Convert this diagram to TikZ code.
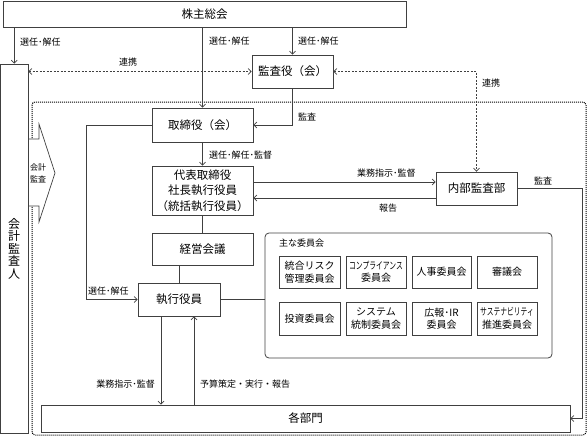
\documentclass[tikz,border=0pt]{standalone}
\usepackage{fontspec}
\usepackage{graphicx}
\setmainfont{Noto Sans CJK JP}
\usetikzlibrary{arrows.meta}
\definecolor{ln}{HTML}{404040}
\tikzset{
  box/.style={draw=ln, line width=0.8pt, fill=white, inner sep=0pt, align=center,
    font=\fontsize{11.5}{15.5}\selectfont},
  cbox/.style={draw=ln, line width=0.8pt, fill=white, inner sep=0pt, align=center,
    font=\fontsize{10}{12.5}\selectfont, minimum width=60pt},
  lab/.style={font=\fontsize{9}{11}\selectfont, inner sep=0pt, text=black},
  arr/.style={draw=ln, line width=0.7pt, -{Straight Barb[length=3pt,width=6pt]}},
  plain/.style={draw=ln, line width=0.7pt},
  dsh/.style={draw=ln, line width=0.7pt, dash pattern=on 2pt off 1.5pt},
  dotreg/.style={draw=black, line width=1pt, dash pattern=on 1pt off 1pt, rounded corners=3pt}
}
\begin{document}
\begin{tikzpicture}[x=1pt,y=-1pt]
\useasboundingbox (0,0) rectangle (588,444);
% dotted region
\draw[dotreg] (32,102) rectangle (586,435);
% accounting audit arrow
\draw[plain, fill=white] (27,139) -- (39,139) -- (39,124) -- (55,173) -- (39,222) -- (39,206) -- (27,206) -- cycle;
\node[inner sep=0pt, align=center, font=\fontsize{8}{12.5}\selectfont] (kk) at (38,173.5) {会計\\監査};

% main boxes
\node[box, minimum width=403pt, minimum height=26pt] (kabu) at (204.5,14) {株主総会};
\node[box, minimum width=27.5pt, minimum height=369pt, font=\fontsize{12}{12.5}\selectfont] (kaikei) at (14.25,248.5) {会\\計\\監\\査\\人};
\node[box, minimum width=81pt, minimum height=33pt] (kansa) at (292.5,71.5) {監査役（会）};
\node[box, minimum width=101pt, minimum height=34pt] (tori) at (202.5,125) {取締役（会）};
\node[box, minimum width=101pt, minimum height=49pt] (daihyo) at (202.5,190.5) {代表取締役\\社長執行役員\\（統括執行役員）};
\node[box, minimum width=81pt, minimum height=33pt] (naibu) at (476.5,188.5) {内部監査部};
\node[box, minimum width=101pt, minimum height=32pt] (keiei) at (202.5,249) {経営会議};
\node[box, minimum width=82pt, minimum height=33pt] (shikko) at (179,299.5) {執行役員};
\node[box, minimum width=529pt, minimum height=27pt] (kakubu) at (305.5,418.5) {各部門};
\node[draw=ln, line width=0.8pt, rounded corners=4pt, minimum width=287pt, minimum height=125pt, inner sep=0pt] (iinkai) at (408.5,295.5) {};

% committees
\node[cbox, minimum width=61pt, minimum height=32pt] (c1) at (309.5,272) {統合リスク\\管理委員会};
\node[cbox, minimum width=60pt, minimum height=32pt] (c2) at (376,272) {\scalebox{0.68}[1]{コンプライアンス}\\委員会};
\node[cbox, minimum width=59pt, minimum height=32pt] (c3) at (441.5,272) {人事委員会};
\node[cbox, minimum width=60pt, minimum height=32pt] (c4) at (507,272) {審議会};
\node[cbox, minimum width=61pt, minimum height=33pt] (c5) at (309.5,318.5) {投資委員会};
\node[cbox, minimum width=60pt, minimum height=33pt] (c6) at (376,318.5) {システム\\統制委員会};
\node[cbox, minimum width=59pt, minimum height=33pt] (c7) at (441.5,318.5) {広報･IR\\委員会};
\node[cbox, minimum width=60pt, minimum height=33pt] (c8) at (507,318.5) {\scalebox{0.68}[1]{サステナビリティ}\\推進委員会};

% helper coordinates
\coordinate (L) at (86,0);
\coordinate (R) at (582,0);
\coordinate (d1) at (0,182);
\coordinate (d2) at (0,198);
\coordinate (x1) at (161,0);
\coordinate (x2) at (194,0);

% connectors
\draw[arr] (kabu.south -| kaikei.north) -- (kaikei.north);
\draw[arr] (kabu.south -| kansa.north) -- (kansa.north);
\draw[arr] (kabu.south -| tori.north) -- (tori.north);
\draw[dsh, {Straight Barb[length=3pt,width=6pt]}-{Straight Barb[length=3pt,width=6pt]}] (kansa.west -| kaikei.east) -- (kansa.west);
\draw[dsh, {Straight Barb[length=3pt,width=6pt]}-{Straight Barb[length=3pt,width=6pt]}] (kansa.east) -- (kansa.east -| naibu.north) -- (naibu.north);
\draw[arr] (kansa.south) |- (tori.east);
\draw[arr] (tori.west) -- (tori.west -| L) |- (shikko.west);
\draw[arr] (tori.south) -- (daihyo.north);
\draw[arr] (daihyo.east |- d1) -- (naibu.west |- d1);
\draw[arr] (naibu.west |- d2) -- (daihyo.east |- d2);
\draw[arr] (naibu.east) -- (naibu.east -| R) |- (kakubu.east);
\draw[plain] (daihyo.south) -- (keiei.north);
\draw[plain] (keiei.south -| shikko.north) -- (shikko.north);
\draw[plain] (shikko.east) -- (shikko.east -| iinkai.west);
\draw[arr] (shikko.south -| x1) -- (kakubu.north -| x1);
\draw[arr] (kakubu.north -| x2) -- (shikko.south -| x2);

% labels
\node[lab, anchor=west] (l1) at (20,42) {選任･解任};
\node[lab, anchor=west] (l2) at (209,41) {選任･解任};
\node[lab, anchor=west] (l3) at (298,41) {選任･解任};
\node[lab] (l4) at (128,62) {連携};
\node[lab, anchor=west] (l5) at (482,83) {連携};
\node[lab, anchor=west] (l6) at (298,117) {監査};
\node[lab, anchor=west] (l7) at (209,155) {選任･解任･監督};
\node[lab, anchor=west] (l8) at (357,173) {業務指示･監督};
\node[lab] (l9) at (388,208) {報告};
\node[lab] (l10) at (543,181) {監査};
\node[lab, anchor=west] (l11) at (88,291) {選任･解任};
\node[lab, anchor=west] (l12) at (279,243) {主な委員会};
\node[lab, anchor=east] (l13) at (155,384) {業務指示･監督};
\node[lab, anchor=west] (l14) at (200,384) {予算策定・実行・報告};
\end{tikzpicture}
\end{document}
